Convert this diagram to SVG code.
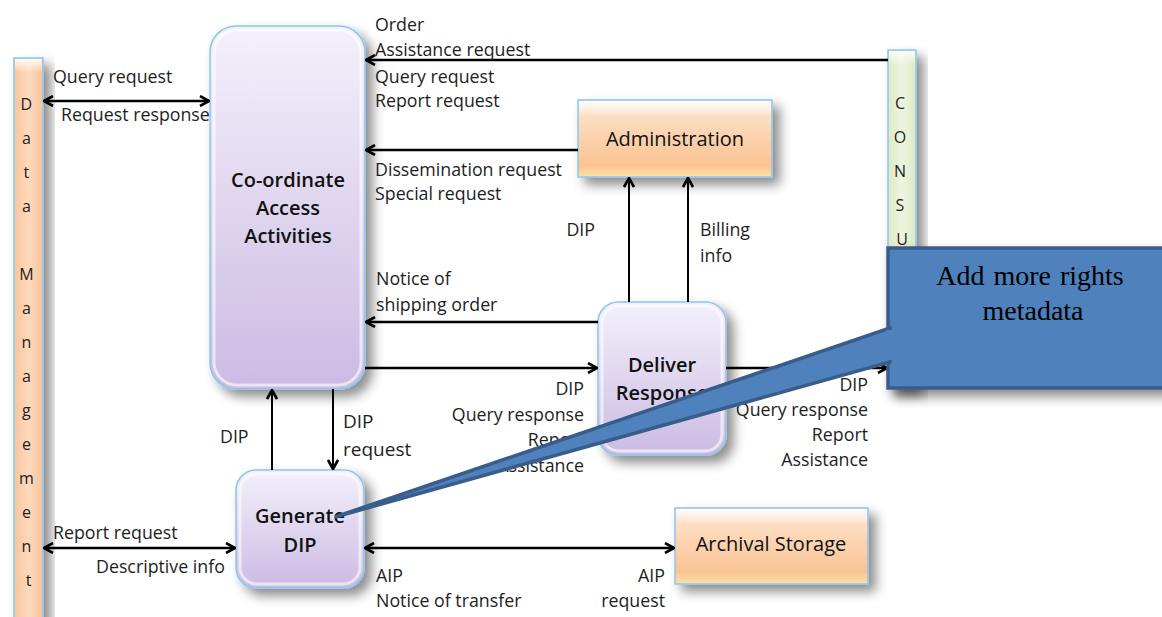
<svg xmlns="http://www.w3.org/2000/svg" width="1162" height="617" viewBox="0 0 1162 617">
  <defs>
    <linearGradient id="lavender" x1="0" y1="0" x2="0" y2="1">
      <stop offset="0" stop-color="#f4f0fb"/>
      <stop offset="1" stop-color="#cbbbe3"/>
    </linearGradient>
    <linearGradient id="peach" x1="0" y1="0" x2="0" y2="1">
      <stop offset="0" stop-color="#fde6d2"/>
      <stop offset="0.85" stop-color="#fac394"/>
      <stop offset="1" stop-color="#fbe2a8"/>
    </linearGradient>
    <linearGradient id="peachBar" x1="0" y1="0" x2="1" y2="0">
      <stop offset="0" stop-color="#f8c49a"/>
      <stop offset="0.5" stop-color="#fdd9bd"/>
      <stop offset="1" stop-color="#f8c49a"/>
    </linearGradient>
    <linearGradient id="greenBar" x1="0" y1="0" x2="1" y2="0">
      <stop offset="0" stop-color="#dde9c4"/>
      <stop offset="0.5" stop-color="#eef5df"/>
      <stop offset="1" stop-color="#dde9c4"/>
    </linearGradient>
    <linearGradient id="topShine" x1="0" y1="0" x2="0" y2="1">
      <stop offset="0" stop-color="#ffffff" stop-opacity="0.9"/>
      <stop offset="1" stop-color="#ffffff" stop-opacity="0"/>
    </linearGradient>
    <filter id="shadow" x="-30%" y="-30%" width="170%" height="170%">
      <feDropShadow dx="7" dy="7" stdDeviation="6" flood-color="#000" flood-opacity="0.45"/>
    </filter>
    <marker id="arrow" viewBox="0 0 12 12" refX="11" refY="6" markerWidth="12" markerHeight="12" markerUnits="userSpaceOnUse" orient="auto-start-reverse">
      <path d="M2,1 L11,6 L2,11" fill="none" stroke="#000" stroke-width="2.6"/>
    </marker>
    <style>
      .lbl { font-family: "Open Sans", "Liberation Sans", sans-serif; font-size: 17.8px; fill: #1e1e1e; }
      .end { text-anchor: end; }
      .node-title { font-family: "Open Sans", "Liberation Sans", sans-serif; font-size: 20px; fill: #111; text-anchor: middle; }
      .bold { font-weight: 600; }
      .proc { fill: url(#lavender); stroke: #8cc6ee; stroke-width: 1.5; }
      .store { fill: url(#peach); stroke: #8cc6ee; stroke-width: 1.5; }
      .bevel { fill: none; stroke: #ffffff; stroke-opacity: 0.6; stroke-width: 3; }
      .wire { fill: none; stroke: #000; stroke-width: 2.5; }
      .thin { stroke-width: 2; }
      .bar-letters { font-family: "Open Sans", "Liberation Sans", sans-serif; font-size: 16px; fill: #1e1e1e; text-anchor: middle; }
      .note { fill: #4f81bd; stroke: #385d8a; stroke-width: 3.5; }
      .note-text { font-family: "Liberation Serif", serif; font-size: 28px; fill: #000; text-anchor: middle; }
    </style>
  </defs>

  <rect width="1162" height="617" fill="#ffffff"/>

  <!-- side bars -->
  <g id="data-management">
    <rect x="14" y="58" width="29" height="580" fill="url(#peachBar)" stroke="#8cc6ee" stroke-width="1.5" filter="url(#shadow)"/>
    <rect x="15" y="59" width="27" height="14" fill="url(#topShine)"/>
    <text class="bar-letters">
      <tspan x="28.5" y="110">D</tspan>
      <tspan x="28.5" dy="34">a</tspan>
      <tspan x="28.5" dy="34">t</tspan>
      <tspan x="28.5" dy="34">a</tspan>
      <tspan x="28.5" dy="68">M</tspan>
      <tspan x="28.5" dy="34">a</tspan>
      <tspan x="28.5" dy="34">n</tspan>
      <tspan x="28.5" dy="34">a</tspan>
      <tspan x="28.5" dy="34">g</tspan>
      <tspan x="28.5" dy="34">e</tspan>
      <tspan x="28.5" dy="34">m</tspan>
      <tspan x="28.5" dy="34">e</tspan>
      <tspan x="28.5" dy="34">n</tspan>
      <tspan x="28.5" dy="34">t</tspan>
    </text>
  </g>

  <g id="consumer">
    <rect x="888" y="50" width="28" height="338" fill="url(#greenBar)" stroke="#8cc6ee" stroke-width="1.5" filter="url(#shadow)"/>
    <rect x="889" y="51" width="26" height="14" fill="url(#topShine)"/>
    <text class="bar-letters">
      <tspan x="902" y="109">C</tspan>
      <tspan x="902" dy="34">O</tspan>
      <tspan x="902" dy="34">N</tspan>
      <tspan x="902" dy="34">S</tspan>
      <tspan x="902" dy="34">U</tspan>
    </text>
  </g>

  <!-- process and store nodes -->
  <g id="coordinate-access">
    <rect class="proc" x="210" y="26" width="155" height="363" rx="26" filter="url(#shadow)"/>
    <rect class="bevel" x="214" y="30" width="147" height="355" rx="23"/>
    <text class="node-title bold"><tspan x="288" y="187">Co-ordinate</tspan><tspan x="288" y="215">Access</tspan><tspan x="288" y="243">Activities</tspan></text>
  </g>

  <g id="administration">
    <rect class="store" x="578" y="100" width="194" height="77" filter="url(#shadow)"/>
    <rect x="579" y="101" width="192" height="16" fill="url(#topShine)"/>
    <text class="node-title" x="675" y="146">Administration</text>
  </g>

  <g id="deliver-response">
    <rect class="proc" x="598" y="302" width="128" height="153" rx="20" filter="url(#shadow)"/>
    <rect class="bevel" x="602" y="306" width="120" height="145" rx="17"/>
    <text class="node-title bold"><tspan x="662" y="372">Deliver</tspan><tspan x="662" y="400">Response</tspan></text>
  </g>

  <g id="generate-dip">
    <rect class="proc" x="236" y="470" width="128" height="118" rx="20" filter="url(#shadow)"/>
    <rect class="bevel" x="240" y="474" width="120" height="110" rx="17"/>
    <text class="node-title bold"><tspan x="300" y="523">Generate</tspan><tspan x="300" y="552">DIP</tspan></text>
  </g>

  <g id="archival-storage">
    <rect class="store" x="675" y="508" width="193" height="76" filter="url(#shadow)"/>
    <rect x="676" y="509" width="191" height="16" fill="url(#topShine)"/>
    <text class="node-title" x="771" y="551">Archival Storage</text>
  </g>

  <!-- connectors and their labels -->
  <g id="connectors">
    <line class="wire" x1="44" y1="101" x2="209" y2="101" marker-start="url(#arrow)" marker-end="url(#arrow)"/>
    <text class="lbl" x="53" y="83">Query request</text>
    <text class="lbl" x="61" y="121">Request response</text>

    <line class="wire" x1="888" y1="60" x2="366" y2="60" marker-end="url(#arrow)"/>
    <text class="lbl" x="375" y="31">Order</text>
    <text class="lbl" x="375" y="56">Assistance request</text>
    <text class="lbl" x="375" y="83">Query request</text>
    <text class="lbl" x="375" y="107">Report request</text>

    <line class="wire" x1="578" y1="150" x2="366" y2="150" marker-end="url(#arrow)"/>
    <text class="lbl" x="375" y="176">Dissemination request</text>
    <text class="lbl" x="375" y="200">Special request</text>

    <line class="wire thin" x1="629" y1="302" x2="629" y2="178" marker-end="url(#arrow)"/>
    <line class="wire thin" x1="688" y1="302" x2="688" y2="178" marker-end="url(#arrow)"/>
    <text class="lbl end" x="595" y="236">DIP</text>
    <text class="lbl" x="700" y="236">Billing</text>
    <text class="lbl" x="700" y="262">info</text>

    <line class="wire" x1="598" y1="322" x2="366" y2="322" marker-end="url(#arrow)"/>
    <text class="lbl" x="376" y="285">Notice of</text>
    <text class="lbl" x="376" y="311">shipping order</text>

    <line class="wire" x1="365" y1="368" x2="597" y2="368" marker-end="url(#arrow)"/>
    <text class="lbl end" x="584" y="395">DIP</text>
    <text class="lbl end" x="584" y="421">Query response</text>
    <text class="lbl end" x="584" y="446">Report</text>
    <text class="lbl end" x="584" y="472">Assistance</text>

    <line class="wire" x1="726" y1="368" x2="887" y2="368" marker-end="url(#arrow)"/>
    <text class="lbl end" x="868" y="391">DIP</text>
    <text class="lbl end" x="868" y="416">Query response</text>
    <text class="lbl end" x="868" y="441">Report</text>
    <text class="lbl end" x="868" y="466">Assistance</text>

    <line class="wire thin" x1="272" y1="470" x2="272" y2="390" marker-end="url(#arrow)"/>
    <text class="lbl" x="220" y="443">DIP</text>
    <line class="wire thin" x1="333" y1="389" x2="333" y2="469" marker-end="url(#arrow)"/>
    <text class="lbl" x="343" y="428" style="font-size:19px">DIP</text>
    <text class="lbl" x="343" y="456" style="font-size:19px">request</text>

    <line class="wire" x1="44" y1="548" x2="235" y2="548" marker-start="url(#arrow)" marker-end="url(#arrow)"/>
    <text class="lbl" x="53" y="539">Report request</text>
    <text class="lbl" x="96" y="573">Descriptive info</text>

    <line class="wire" x1="365" y1="548" x2="674" y2="548" marker-start="url(#arrow)" marker-end="url(#arrow)"/>
    <text class="lbl" x="376" y="582">AIP</text>
    <text class="lbl" x="376" y="607">Notice of transfer</text>
    <text class="lbl end" x="665" y="582">AIP</text>
    <text class="lbl end" x="665" y="607">request</text>
  </g>

  <!-- annotation callout -->
  <g id="rights-note">
    <rect class="note" x="888" y="248" width="280" height="140" filter="url(#shadow)"/>
    <polygon class="note" points="335,517 890,328 890,362" stroke-linejoin="miter"/>
    <rect x="886" y="330" width="6" height="30" fill="#4f81bd"/>
    <text class="note-text"><tspan x="1030" y="285" word-spacing="2">Add more rights</tspan><tspan x="1033" y="320">metadata</tspan></text>
  </g>
</svg>
